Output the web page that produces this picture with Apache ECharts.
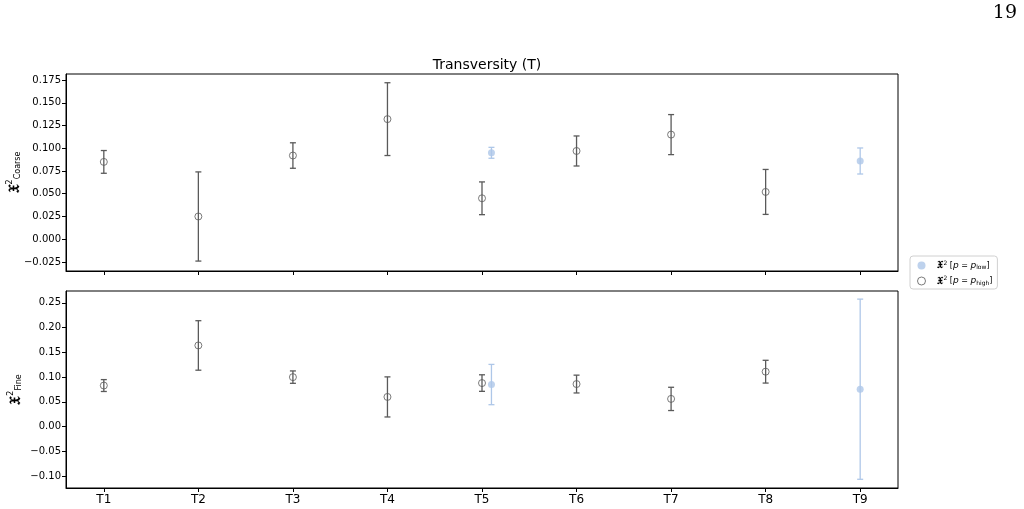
<!DOCTYPE html>
<html lang="en">
<head>
    <meta charset="UTF-8">
    <title>Transversity (T)</title>
    <style>
        body{ margin:0; background:#fff; }
        #main{ width:1024px; height:509px; }
    </style>
</head>
<body>
    <div id="main"></div>
    <script src="https://cdn.jsdelivr.net/npm/echarts@6/dist/echarts.min.js"></script>
    <script>
        let categories = ['T1','T2','T3','T4','T5','T6','T7','T8','T9']

        // coarse panel (top)
        let coarseHigh    = [0.085, 0.025, 0.092, 0.132, 0.045, 0.097, 0.115, 0.052, null]
        let coarseHighErr = [0.0125, 0.049, 0.014, 0.040, 0.018, 0.0165, 0.022, 0.0247, null]
        let coarseLow     = [null, null, null, null, 0.095, null, null, null, 0.086]
        let coarseLowErr  = [null, null, null, null, 0.006, null, null, null, 0.0143]
        let coarseTicks   = [-0.025, 0, 0.025, 0.05, 0.075, 0.1, 0.125, 0.15, 0.175]

        // fine panel (bottom)
        let fineHigh    = [0.083, 0.164, 0.100, 0.060, 0.088, 0.086, 0.056, 0.111, null]
        let fineHighErr = [0.012, 0.050, 0.0125, 0.0405, 0.0167, 0.018, 0.0235, 0.023, null]
        let fineLow     = [null, null, null, null, 0.085, null, null, null, 0.0756]
        let fineLowErr  = [null, null, null, null, 0.0407, null, null, null, 0.182]
        let fineTicks   = [-0.10, -0.05, 0, 0.05, 0.10, 0.15, 0.20, 0.25]

        const HIGH = '#5a5a5a'
        const LOW = '#aec7e8'
        const FONT = 'DejaVu Sans'

        // low points get nudged right where a high point shares the slot
        function pts(vals, errs, other){
            let out = []
            vals.forEach((v, i) => {
                if(v == null) return
                let dx = (other && other[i] != null) ? 0.1 : 0
                out.push([i + dx, v, errs[i]])
            })
            return out
        }

        function errBars(data, color, gi){
            return {
                type:'custom',
                xAxisIndex:gi, yAxisIndex:gi,
                silent:true,
                z:2,
                data:data,
                renderItem:function(params, api){
                    let x = api.value(0), y = api.value(1), e = api.value(2)
                    let lo = api.coord([x, y - e])
                    let hi = api.coord([x, y + e])
                    let st = { stroke:color, lineWidth:1.3 }
                    return {
                        type:'group',
                        children:[
                            { type:'line', shape:{ x1:lo[0], y1:lo[1], x2:hi[0], y2:hi[1] }, style:st },
                            { type:'line', shape:{ x1:lo[0]-3, y1:lo[1], x2:lo[0]+3, y2:lo[1] }, style:st },
                            { type:'line', shape:{ x1:hi[0]-3, y1:hi[1], x2:hi[0]+3, y2:hi[1] }, style:st }
                        ]
                    }
                }
            }
        }

        function points(name, data, gi){
            let low = name == 'low'
            return {
                name:name,
                type:'scatter',
                xAxisIndex:gi, yAxisIndex:gi,
                symbol:'circle',
                symbolSize:7,
                z:3,
                itemStyle: low ? { color:LOW } : { color:'rgba(255,255,255,0)', borderColor:HIGH, borderWidth:1 },
                data:data.map(d => [d[0], d[1]])
            }
        }

        function fmt(dec){
            return function(v){
                let s = Math.abs(v).toFixed(dec)
                return v < -1e-9 ? '\u2212' + s : s
            }
        }

        let tickIdx = categories.map((c, i) => i)

        function xAxis(gi, showLabels){
            return {
                type:'value', gridIndex:gi, min:-0.4, max:8.4,
                axisLine:{ show:true, onZero:false, lineStyle:{ color:'#000' } },
                axisTick:{ show:true, length:4, customValues:tickIdx, lineStyle:{ color:'#000' } },
                axisLabel:{
                    show:showLabels, customValues:tickIdx,
                    formatter:v => categories[Math.round(v)] || '',
                    color:'#000', fontFamily:FONT, fontSize:12, margin:6
                },
                splitLine:{ show:false }
            }
        }

        function yAxis(gi, min, max, ticks, dec, sub, gap){
            return {
                type:'value', gridIndex:gi, min:min, max:max,
                name:'{x|\uD835\uDD1B}{sup|2}{sub|' + sub + '}',
                nameLocation:'middle', nameRotate:90, nameGap:gap,
                nameMoveOverlap:false,
                nameTextStyle:{
                    color:'#000', fontFamily:FONT,
                    rich:{
                        x:{ fontSize:14, fontWeight:'bold', fontFamily:FONT },
                        sup:{ fontSize:8, fontFamily:FONT, padding:[0,0,10,0] },
                        sub:{ fontSize:8, fontFamily:FONT, padding:[6,0,0,0] }
                    }
                },
                axisLine:{ show:true, onZero:false, lineStyle:{ color:'#000' } },
                axisTick:{ show:true, length:4, customValues:ticks, lineStyle:{ color:'#000' } },
                axisLabel:{ customValues:ticks, formatter:fmt(dec), color:'#000', fontFamily:FONT, fontSize:10, margin:5 },
                splitLine:{ show:false }
            }
        }

        let cHighPts = pts(coarseHigh, coarseHighErr, null)
        let cLowPts  = pts(coarseLow, coarseLowErr, coarseHigh)
        let fHighPts = pts(fineHigh, fineHighErr, null)
        let fLowPts  = pts(fineLow, fineLowErr, fineHigh)

        let chart = echarts.init(document.getElementById('main'))
        let option = {
            animation:false,
            title:{
                text:'Transversity (T)',
                left:482, top:53, textAlign:'center',
                textStyle:{ fontFamily:FONT, fontSize:14, fontWeight:'normal', color:'#000' }
            },
            graphic:[
                { type:'text', right:7, top:4, style:{ text:'19', fontFamily:'DejaVu Serif', fontSize:19, fill:'#000' } }
            ],
            legend:{
                data:[
                    { name:'low' },
                    { name:'high', itemStyle:{ color:'rgba(255,255,255,0)', borderColor:HIGH, borderWidth:1 } }
                ],
                orient:'vertical',
                left:910, top:256,
                itemWidth:8, itemHeight:8, itemGap:5,
                padding:[4,5,3,7],
                borderColor:'#d0d0d0', borderWidth:1, borderRadius:3,
                formatter:function(n){
                    return '{x|\uD835\uDD1B}{s|2} [{i|p} = {i|p}{b|' + n + '}]'
                },
                textStyle:{
                    fontFamily:FONT, fontSize:8, color:'#000', padding:[0,0,0,6],
                    rich:{
                        x:{ fontSize:10, fontWeight:'bold', fontFamily:FONT },
                        s:{ fontSize:6, fontFamily:FONT, padding:[0,0,5,1] },
                        i:{ fontSize:9, fontStyle:'italic', fontFamily:FONT },
                        b:{ fontSize:6, fontFamily:FONT, padding:[4,0,0,0] }
                    }
                }
            },
            grid:[
                { left:66, right:126, top:74, height:197, outerBoundsMode:'none', show:true, borderColor:'#000', borderWidth:1, backgroundColor:'#fff' },
                { left:66, right:126, top:291, height:197, outerBoundsMode:'none', show:true, borderColor:'#000', borderWidth:1, backgroundColor:'#fff' }
            ],
            xAxis:[ xAxis(0, false), xAxis(1, true) ],
            yAxis:[
                yAxis(0, -0.0349, 0.1816, coarseTicks, 3, 'Coarse', 42),
                yAxis(1, -0.124, 0.274, fineTicks, 2, 'Fine', 41)
            ],
            series:[
                errBars(cHighPts, HIGH, 0),
                errBars(cLowPts, LOW, 0),
                points('high', cHighPts, 0),
                points('low', cLowPts, 0),
                errBars(fHighPts, HIGH, 1),
                errBars(fLowPts, LOW, 1),
                points('high', fHighPts, 1),
                points('low', fLowPts, 1)
            ]
        }
        chart.setOption(option)
    </script>
</body>
</html>
